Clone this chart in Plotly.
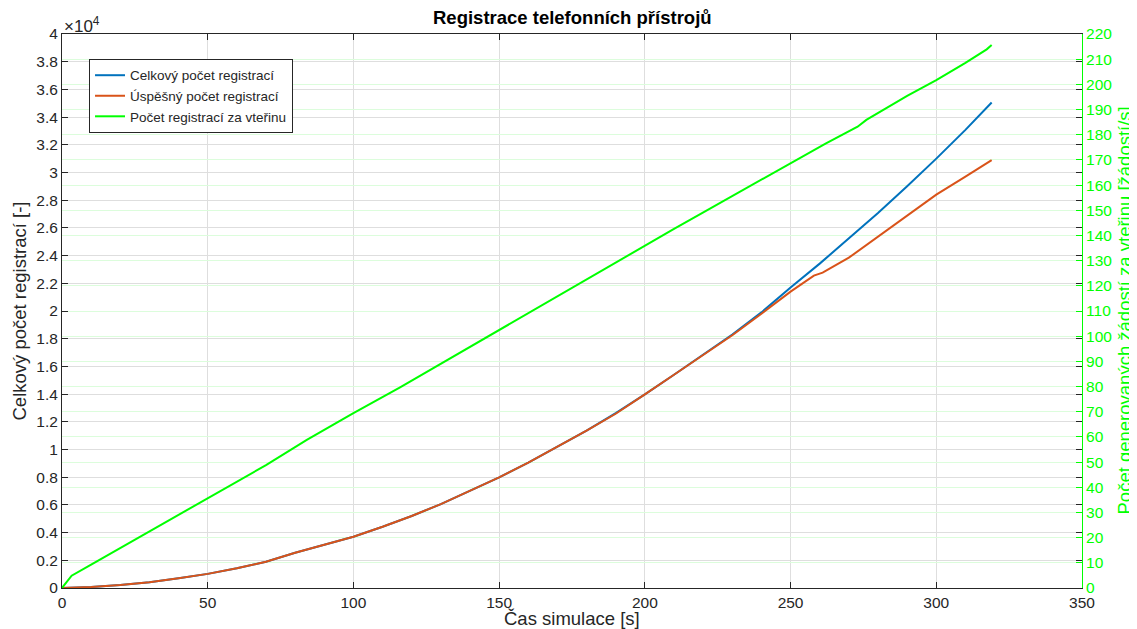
import plotly.graph_objects as go

# --- data ---
t_total = [0, 10, 20, 30, 40, 50, 60, 70, 80, 90, 100, 110, 120, 130, 140, 150, 160, 170,
           180, 190, 200, 210, 220, 230, 240, 250, 260, 270, 280, 290, 300, 310, 319]
total = [0, 70, 210, 420, 700, 1020, 1420, 1900, 2550, 3100, 3700, 4420, 5200, 6060, 7000,
         7990, 9050, 10180, 11370, 12630, 13980, 15400, 16850, 18300, 19900, 21700, 23420,
         25210, 27070, 29000, 31000, 33080, 35050]

t_ok = [0, 10, 20, 30, 40, 50, 60, 70, 80, 90, 100, 110, 120, 130, 140, 150, 160, 170,
        180, 190, 195, 200, 210, 220, 230, 240, 250, 258, 261, 270, 280, 290, 300, 310, 319]
success = [0, 70, 210, 420, 700, 1020, 1420, 1900, 2550, 3100, 3700, 4420, 5200, 6060, 7000,
           7990, 9050, 10180, 11370, 12580, 13250, 13980, 15400, 16850, 18250, 19800, 21400,
           22550, 22770, 23850, 25350, 26900, 28400, 29700, 30900]

t_rate = [0, 3.3, 10, 20, 30, 36, 40, 50, 61, 70, 84, 90, 100, 116, 130, 150, 170, 190,
          200, 210, 219, 230, 240, 250, 262, 273, 276, 290, 300, 310, 317.3, 319]
rate = [0, 4.9, 9.3, 15.9, 22.4, 26.3, 29.0, 35.8, 42.9, 48.8, 58.8, 62.8, 69.4, 79.7, 89.1,
        102.5, 116.0, 129.5, 136.2, 142.6, 148.5, 155.7, 162.2, 168.9, 176.5, 183.2, 185.9,
        195.4, 201.7, 208.5, 213.9, 215.6]

left_ticks = list(range(0, 40001, 2000))
left_text = [("%g" % (v / 10000)) for v in left_ticks]
right_ticks = list(range(0, 221, 10))
x_ticks = list(range(0, 351, 50))

names = ["Celkový počet registrací", "Úspěšný počet registrací", "Počet registrací za vteřinu"]

DARK = "#262626"
GREEN = "#00ff00"
FONT = "Liberation Sans, Arial, sans-serif"

fig = go.Figure()
fig.add_trace(go.Scatter(x=t_total, y=total, mode="lines", name=names[0],
                         line=dict(color="#0072BD", width=2)))
fig.add_trace(go.Scatter(x=t_ok, y=success, mode="lines", name=names[1],
                         line=dict(color="#D95319", width=2)))
fig.add_trace(go.Scatter(x=t_rate, y=rate, mode="lines", name=names[2], yaxis="y2",
                         line=dict(color=GREEN, width=2)))

# page body has an 8px margin, so the figure is sized/offset to compensate
fig.update_layout(
    width=1129, height=621,
    margin=dict(l=54, r=55, t=26, b=41),
    paper_bgcolor="white", plot_bgcolor="white",
    font=dict(family=FONT, size=15, color=DARK),
    showlegend=True,
    legend=dict(x=0.0265, y=0.955, xanchor="left", yanchor="top",
                bgcolor="white", bordercolor=DARK, borderwidth=1,
                font=dict(size=13.5, color=DARK), tracegroupgap=0,
                itemwidth=30),
    xaxis=dict(range=[0, 350], tickvals=x_ticks, ticks="inside", ticklen=6,
               tickcolor=DARK, showline=True, linecolor=DARK, linewidth=1, mirror="ticks",
               showgrid=True, gridcolor="#dedede", gridwidth=1, zeroline=False,
               tickfont=dict(size=15.5, color=DARK)),
    yaxis=dict(range=[0, 40000], tickvals=left_ticks, ticktext=left_text, ticks="inside",
               ticklen=6, tickcolor=DARK, showline=True, linecolor=DARK, linewidth=1,
               mirror="ticks", showgrid=True, gridcolor="#dedede", gridwidth=1,
               zeroline=False, tickfont=dict(size=15.5, color=DARK)),
    yaxis2=dict(range=[0, 220], tickvals=right_ticks, overlaying="y", side="right",
                ticks="inside", ticklen=6, tickcolor=GREEN, showline=True, linecolor=GREEN,
                linewidth=1, showgrid=True, gridcolor="#dcfddc", gridwidth=1, zeroline=False,
                tickfont=dict(size=15.5, color=GREEN)),
    annotations=[
        dict(text="<b>Registrace telefonních přístrojů</b>", xref="paper", yref="paper",
             x=0.5, y=1, yshift=4, xanchor="center", yanchor="bottom", showarrow=False,
             font=dict(size=18.5, color="black")),
        dict(text="×10<sup>4</sup>", xref="paper", yref="paper", x=0, y=1, xanchor="left",
             yanchor="bottom", yshift=-4, showarrow=False, font=dict(size=17, color=DARK)),
        dict(text="Čas simulace [s]", xref="paper", yref="paper", x=0.5, y=0, yshift=-18,
             xanchor="center", yanchor="top", showarrow=False,
             font=dict(size=18.5, color=DARK)),
        dict(text="Celkový počet registrací [-]", xref="paper", yref="paper", x=0, y=0.5,
             xshift=-31, xanchor="right", yanchor="middle", textangle=-90, showarrow=False,
             font=dict(size=18.5, color=DARK)),
        dict(text="Počet generovaných žádostí za vteřinu [žádostí/s]", xref="paper",
             yref="paper", x=1, y=0.5, xshift=29, xanchor="left", yanchor="middle",
             textangle=-90, showarrow=False, font=dict(size=18.5, color=GREEN)),
    ],
)

fig.write_html("out.html")
